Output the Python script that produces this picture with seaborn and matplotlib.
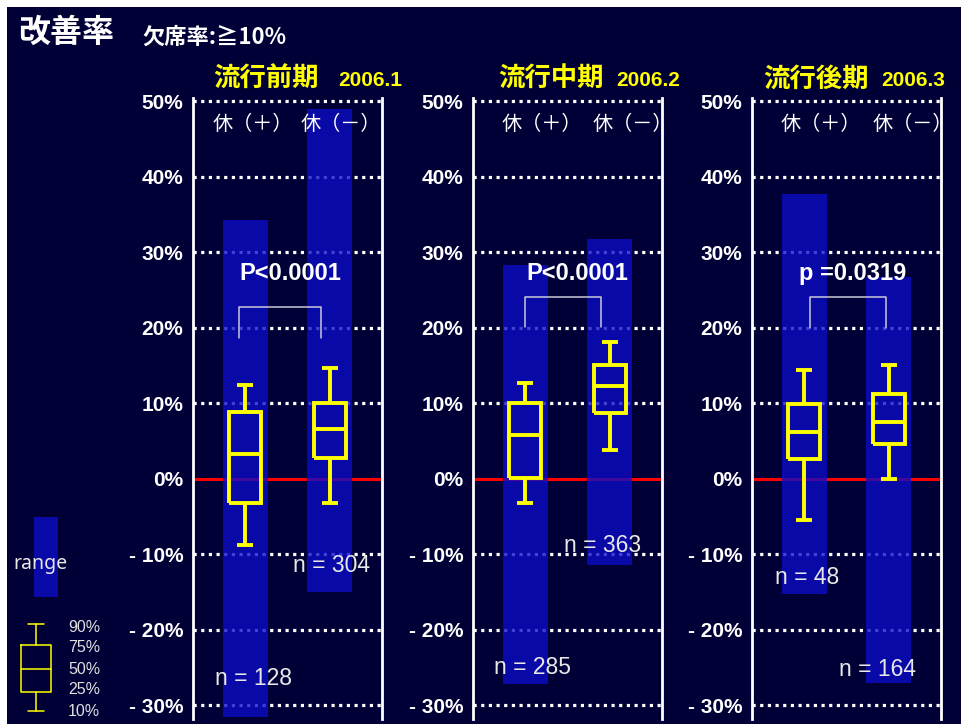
"""
Improvement rate by absence status, three flu-season periods (Jan-Mar 2006).
Blue bars = range, yellow boxes = 10/25/50/75/90 percentiles.
"""

import numpy as np
import pandas as pd
import seaborn as sns
import matplotlib.pyplot as plt
from matplotlib.patches import Rectangle

# Values (percent).
periods = ["流行前期", "流行中期", "流行後期"]
months = ["2006.1", "2006.2", "2006.3"]
groups = ["休（＋）", "休（－）"]
range_low = [[-31.5, -15.0], [-27.2, -11.4], [-15.3, -27.0]]
range_high = [[34.3, 49.0], [28.3, 31.8], [37.8, 26.7]]
p10 = [[-8.7, -3.2], [-3.2, 3.8], [-5.5, 0.0]]
p25 = [[-3.2, 2.8], [0.1, 8.7], [2.6, 4.6]]
p50 = [[3.3, 6.6], [5.8, 12.3], [6.2, 7.5]]
p75 = [[8.9, 10.1], [10.1, 15.1], [9.9, 11.2]]
p90 = [[12.4, 14.7], [12.7, 18.1], [14.4, 15.1]]
n_counts = [[128, 304], [285, 363], [48, 164]]
p_texts = ["P<0.0001", "P<0.0001", "p =0.0319"]
yticks = [-30, -20, -10, 0, 10, 20, 30, 40, 50]

# Colours and layout.
navy = "#000036"
bar_blue = "#0c0cc8"
yellow = "#ffff00"
panel_left = [193, 473, 752]
label_dx = [(0.09, 0.13), (0.19, 0.27), (0.2, 0.28)]
n_dx = [(0.1, 0.02), (0.09, -0.09), (0.03, -0.13)]
n_y = [(-26.5, -11.5), (-25.0, -8.8), (-13.1, -25.2)]
p_x = [0.53, 0.62, 0.57]
bracket_x = [(-0.08, 0.9), (0.0, 0.9), (0.07, 0.97)]
bracket_y = [(22.8, 18.7), (24.1, 20.1), (24.1, 20.0)]

sns.set_theme(style="white")
plt.rcParams["font.family"] = ["Liberation Sans", "Noto Sans CJK JP"]
cjk = ["Noto Sans CJK JP", "DejaVu Sans"]

W, H = 961, 724
fig = plt.figure(figsize=(W / 100, H / 100), dpi=100, facecolor="white")

# Background, headline and legend drawn in pixel coordinates.
bg = fig.add_axes([0, 0, 1, 1], zorder=0)
bg.set_xlim(0, W)
bg.set_ylim(H, 0)
bg.axis("off")
bg.add_patch(Rectangle((7, 7), W - 7, H - 7, color=navy, lw=0))
bg.text(18, 33, "改善率", color="white", fontsize=23, fontweight="bold", family=cjk, va="center")
bg.text(142, 37, "欠席率:≧10%", color="white", fontsize=16, fontweight="bold", family=cjk, va="center")
title_x = [(213, 338), (498, 616), (763, 881)]
for i in range(3):
    bg.text(title_x[i][0], 79, periods[i], color=yellow, fontsize=19, fontweight="bold", family=cjk, va="center")
    bg.text(title_x[i][1], 80, months[i], color=yellow, fontsize=15, fontweight="bold", va="center")

# legend: range bar
bg.add_patch(Rectangle((34, 517), 24, 80, color=bar_blue, alpha=0.78, lw=0))
bg.text(40, 564, "range", color="#e8e8e8", fontsize=14, ha="center", va="center", family=["Noto Sans", "DejaVu Sans"])
# legend: box key
lk = dict(color=yellow, lw=1.1)
bg.plot([21, 51, 51, 21, 21], [645, 645, 692, 692, 645], **lk)
bg.plot([21, 51], [669, 669], **lk)
bg.plot([36, 36], [624, 645], **lk)
bg.plot([36, 36], [692, 711], **lk)
bg.plot([28, 44], [624, 624], **lk)
bg.plot([28, 44], [711, 711], **lk)
for lab, yy in zip(["90%", "75%", "50%", "25%", "10%"], [628, 648, 669, 690, 711]):
    bg.text(68, yy, lab, color="#e0e0e0", fontsize=11.5, va="center")

ylo, yhi = -31.8, 50.4
ax_bottom = (H - 719) / H
ax_height = 620.6 / H

for i in range(3):
    ax = fig.add_axes([panel_left[i] / W, ax_bottom, 189 / W, ax_height], zorder=2)
    ax.set_facecolor("none")

    d = pd.DataFrame({"group": groups,
                      "low": range_low[i],
                      "span": np.subtract(range_high[i], range_low[i])})
    sns.barplot(data=d, x="group", y="span", order=groups, bottom=d["low"].to_numpy(),
                width=0.53, color=bar_blue, saturation=1, alpha=0.78, errorbar=None,
                linewidth=0, edgecolor="none", ax=ax, zorder=3)

    stats = [dict(whislo=p10[i][j], q1=p25[i][j], med=p50[i][j], q3=p75[i][j],
                  whishi=p90[i][j], fliers=[]) for j in range(2)]
    line = dict(color=yellow, linewidth=2.8, solid_capstyle="butt")
    ax.bxp(stats, positions=[0, 1], widths=0.38, capwidths=0.19, showfliers=False,
           boxprops=dict(line, solid_joinstyle="miter"), whiskerprops=line,
           capprops=line, medianprops=line, manage_ticks=False, zorder=4)

    for t in yticks:
        if t == 0:
            ax.axhline(0, color="#ff0000", lw=2.2, zorder=2)
        else:
            ax.axhline(t, color="white", lw=2.3, ls=(0, (1, 1.4)), zorder=1)

    # significance bracket
    bx0, bx1 = bracket_x[i]
    top, bot = bracket_y[i]
    ax.plot([bx0, bx0, bx1, bx1], [bot, top, top, bot], color="#c8c8d8", lw=1.1, zorder=5)
    ax.text(p_x[i], 27.2, p_texts[i], color="white", fontsize=17, fontweight="bold",
            ha="center", va="center", zorder=6)

    for j in range(2):
        ax.text(j + label_dx[i][j], 47, groups[j], color="white", fontsize=14.5, family=cjk,
                ha="center", va="center", zorder=6)
        ax.text(j + n_dx[i][j], n_y[i][j], f"n = {n_counts[i][j]}", color="#e8e8e8",
                fontsize=16.5, ha="center", va="center", zorder=6)

    ax.set_xlim(-0.62, 1.62)
    ax.set_ylim(ylo, yhi)
    ax.set_xticks([])
    ax.set_yticks(yticks)
    ax.set_yticklabels([f"{t}%" if t >= 0 else f"- {abs(t)}%" for t in yticks],
                       color="white", fontsize=15, fontweight="bold")
    ax.tick_params(axis="y", length=0, pad=7)
    ax.set_xlabel("")
    ax.set_ylabel("")
    for side in ["top", "bottom"]:
        ax.spines[side].set_visible(False)
    for side in ["left", "right"]:
        ax.spines[side].set_color("white")
        ax.spines[side].set_linewidth(2)
    ax.grid(False)

fig.savefig("out.png", dpi=100, facecolor="white")
